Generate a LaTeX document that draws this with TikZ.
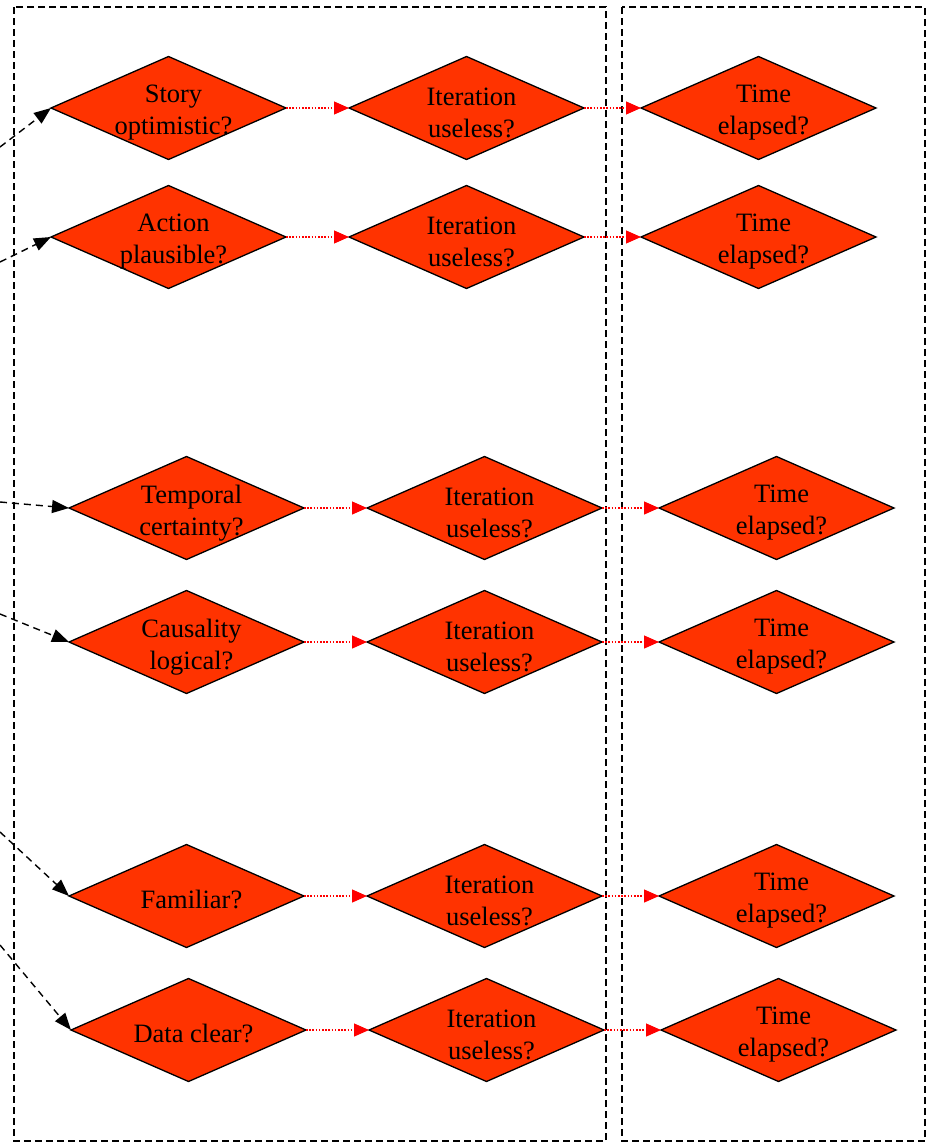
\documentclass[tikz,border=0pt]{standalone}
\usepackage{fontspec}
\setmainfont{Liberation Serif}
\usetikzlibrary{shapes.geometric,arrows.meta}
\definecolor{dfill}{RGB}{255,51,0}
\begin{document}
\begin{tikzpicture}[x=1pt,y=-1pt,
 dia/.style={diamond,draw=black,fill=dfill,line width=1.3pt,inner sep=0pt,outer sep=0pt,minimum width=235pt,minimum height=103pt},
 txt/.style={font=\fontsize{26.5}{32}\selectfont,align=center,text=black,inner sep=0pt},
 region/.style={draw=black,line width=1.3pt,dash pattern=on 7pt off 4pt},
 feed/.style={draw=black,line width=1.4pt,dash pattern=on 7pt off 5pt,-{Triangle[length=17pt,width=13pt]}},
 flow/.style={draw=red,line width=1.2pt,dash pattern=on 1.6pt off 1.6pt,-{Triangle[length=15pt,width=13pt]}}]
\useasboundingbox (0,0) rectangle (936,1146);
\clip (0,0) rectangle (936,1146);
% regions
\draw[region] (14,7) rectangle (606,1141);
\draw[region] (622,7) rectangle (925,1141);
% row 1
\node[dia] (a1) at (168.5,108) {};
\node[dia] (b1) at (466.5,108) {};
\node[dia] (c1) at (758.5,108) {};
% row 2
\node[dia] (a2) at (168.5,237) {};
\node[dia] (b2) at (466.5,237) {};
\node[dia] (c2) at (758.5,237) {};
% row 3
\node[dia] (a3) at (186.5,508) {};
\node[dia] (b3) at (484.5,508) {};
\node[dia] (c3) at (776.5,508) {};
% row 4
\node[dia] (a4) at (186.5,642) {};
\node[dia] (b4) at (484.5,642) {};
\node[dia] (c4) at (776.5,642) {};
% row 5
\node[dia] (a5) at (186.5,896) {};
\node[dia] (b5) at (484.5,896) {};
\node[dia] (c5) at (776.5,896) {};
% row 6
\node[dia] (a6) at (188.5,1030) {};
\node[dia] (b6) at (486.5,1030) {};
\node[dia] (c6) at (778.5,1030) {};
% texts
\node[txt] (ta1) at ([xshift=5pt,yshift=-5pt]a1.center) {Story\\optimistic?};
\node[txt] (ta2) at ([xshift=5pt,yshift=-5pt]a2.center) {Action\\plausible?};
\node[txt] (ta3) at ([xshift=5pt,yshift=-5pt]a3.center) {Temporal\\certainty?};
\node[txt] (ta4) at ([xshift=5pt,yshift=-5pt]a4.center) {Causality\\logical?};
\node[txt] (ta5) at ([xshift=5pt,yshift=-3pt]a5.center) {Familiar?};
\node[txt] (ta6) at ([xshift=5pt,yshift=-3pt]a6.center) {Data clear?};
\foreach \r in {1,...,6}{
  \node[txt] (tb\r) at ([xshift=5pt,yshift=-5pt]b\r.center) {Iteration\\useless?};
  \node[txt] (tc\r) at ([xshift=5pt,yshift=-5pt]c\r.center) {Time\\elapsed?};
  \draw[flow] (a\r.east) -- (b\r.west);
  \draw[flow] (b\r.east) -- (c\r.west);
}
% incoming feeds
\coordinate (s1) at (0,147);
\coordinate (s2) at (0,262);
\coordinate (s3) at (0,502);
\coordinate (s4) at (0,614);
\coordinate (s5) at (0,832);
\coordinate (s6) at (0,945);
\foreach \r in {1,...,6}{
  \draw[feed] (s\r) -- (a\r.west);
}
\end{tikzpicture}
\end{document}
